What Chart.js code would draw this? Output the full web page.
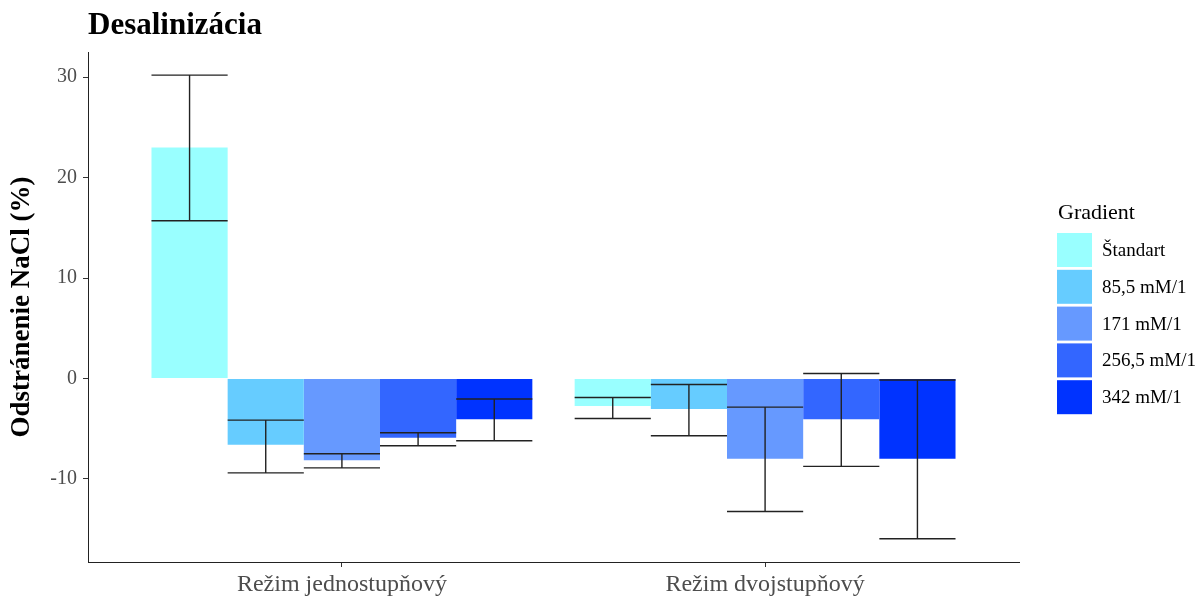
<!DOCTYPE html>
<html>
<head>
<meta charset="utf-8">
<script src="https://cdn.jsdelivr.net/npm/chart.js@4.4.0/dist/chart.umd.min.js"></script>
<style>
  body { margin: 0; background: #fff; }
  #wrap { width: 1203px; height: 598px; }
</style>
</head>
<body>
<div id="wrap"><canvas id="chart" width="1203" height="598"></canvas></div>
<script>
var groups = ['Režim jednostupňový', 'Režim dvojstupňový']
var gradients = ['Štandart', '85,5 mM/1', '171 mM/1', '256,5 mM/1', '342 mM/1']
var colors = ['#99FFFF', '#66CCFF', '#6699FF', '#3366FF', '#0033FF']
var yTicks = [-10, 0, 10, 20, 30]

// one row per gradient, one column per group
var means = [
    [23.0, -2.75],
    [-6.6, -3.05],
    [-8.15, -8.0],
    [-5.9, -4.05],
    [-4.05, -8.0]
]
var errLow = [
    [15.7, -3.98],
    [-9.4, -5.7],
    [-8.9, -13.25],
    [-6.7, -8.75],
    [-6.2, -15.95]
]
var errHigh = [
    [30.2, -1.9],
    [-4.15, -0.6],
    [-7.5, -2.85],
    [-5.4, 0.5],
    [-2.05, -0.15]
]

var serif = "'Liberation Serif', 'Times New Roman', serif"

var errorBars = {
    id: 'errorBars',
    afterDatasetsDraw(chart) {
        const ctx = chart.ctx
        const y = chart.scales.y
        ctx.save()
        ctx.strokeStyle = '#222'
        ctx.lineWidth = 1.4
        chart.data.datasets.forEach((ds, d) => {
            const meta = chart.getDatasetMeta(d)
            meta.data.forEach((bar, i) => {
                const half = bar.width / 2
                const lo = y.getPixelForValue(errLow[d][i])
                const hi = y.getPixelForValue(errHigh[d][i])
                ctx.beginPath()
                ctx.moveTo(bar.x, lo); ctx.lineTo(bar.x, hi)
                ctx.moveTo(bar.x - half, lo); ctx.lineTo(bar.x + half, lo)
                ctx.moveTo(bar.x - half, hi); ctx.lineTo(bar.x + half, hi)
                ctx.stroke()
            })
        })
        ctx.restore()
    }
}

var extras = {
    id: 'extras',
    afterDraw(chart) {
        const ctx = chart.ctx
        ctx.save()
        ctx.fillStyle = '#000'
        ctx.textBaseline = 'alphabetic'
        ctx.textAlign = 'left'
        ctx.font = "bold 31px " + serif
        ctx.fillText('Desalinizácia', 88, 34)

        // legend
        ctx.font = "22px " + serif
        ctx.fillText('Gradient', 1058, 219)
        ctx.font = "19px " + serif
        ctx.textBaseline = 'middle'
        gradients.forEach((g, i) => {
            const top = 233 + i * 36.8
            ctx.fillStyle = colors[i]
            ctx.fillRect(1057, top, 35, 34)
            ctx.fillStyle = '#000'
            ctx.fillText(g, 1102, top + 18)
        })
        ctx.restore()
    }
}

var chart = new Chart(document.getElementById('chart').getContext('2d'), {
    type: 'bar',
    data: {
        datasets: gradients.map((g, s) => ({
            label: g,
            backgroundColor: colors[s],
            borderWidth: 0,
            categoryPercentage: 0.9,
            barPercentage: 1,
            data: groups.map((grp, i) => ({ x: i + 1, y: means[s][i] }))
        }))
    },
    options: {
        responsive: false,
        animation: false,
        devicePixelRatio: 1,
        layout: { padding: { top: 52, right: 184, bottom: 0, left: 0 } },
        plugins: {
            legend: { display: false },
            tooltip: { enabled: false }
        },
        scales: {
            x: {
                type: 'linear',
                min: 0.4,
                max: 2.6,
                offset: false,
                grid: { offset: false, drawOnChartArea: false, tickLength: 5, color: '#333' },
                border: { color: '#222', width: 1 },
                afterBuildTicks: (scale) => { scale.ticks = groups.map((g, i) => ({ value: i + 1 })) },
                afterFit: (scale) => { scale.height = 36 },
                ticks: {
                    autoSkip: false,
                    maxRotation: 0,
                    padding: 3,
                    color: '#4d4d4d',
                    font: { family: serif, size: 24 },
                    callback: (v) => groups[v - 1]
                }
            },
            y: {
                min: -18.27,
                max: 32.5,
                grid: { drawOnChartArea: false, tickLength: 5, color: '#333' },
                border: { color: '#222', width: 1 },
                afterBuildTicks: (scale) => { scale.ticks = yTicks.map(v => ({ value: v })) },
                afterFit: (scale) => { scale.width = 88 },
                ticks: {
                    padding: 6,
                    color: '#4d4d4d',
                    font: { family: serif, size: 20 }
                },
                title: {
                    display: true,
                    text: 'Odstránenie NaCl (%)',
                    color: '#000',
                    padding: { top: 6, bottom: 0 },
                    font: { family: serif, size: 27, weight: 'bold' }
                }
            }
        }
    },
    plugins: [errorBars, extras]
})
</script>
</body>
</html>
